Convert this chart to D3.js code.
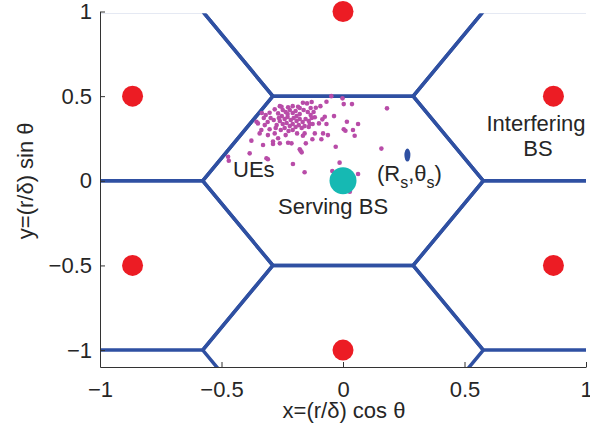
<!DOCTYPE html>
<html>
<head>
<meta charset="utf-8">
<script src="https://cdn.jsdelivr.net/npm/d3@7"></script>
<style>
  html, body { margin: 0; padding: 0; background: #fff; }
  svg { display: block; }
  text { font-family: "Liberation Sans", Arial, Helvetica, sans-serif; fill: #262626; }
</style>
</head>
<body>
<script>
// Base station layout (normalized by inter-site distance)
const interferingX = [0, 0.866, 0.866, 0, -0.866, -0.866];
const interferingY = [1, 0.5, -0.5, -1, -0.5, 0.5];
const servingX = [0];
const servingY = [0];

// Hexagonal cell centres (serving + six neighbours)
const cellX = [0, 0, 0.866, 0.866, 0, -0.866, -0.866];
const cellY = [0, 1, 0.5, -0.5, -1, -0.5, 0.5];

// User equipment positions
const ueX = [
  -0.048, -0.002, -0.068, 0.003, 0.037, -0.093, -0.112, 0.181, -0.037, -0.075,
  -0.085, -0.116, 0.062, 0.016, -0.068, -0.099, -0.137, 0.003, 0.010, 0.041,
  0.048, -0.062, -0.082, -0.116, -0.158, -0.165, -0.189, -0.089, -0.126, -0.153,
  -0.212, -0.030, -0.178, -0.175, -0.170, 0.158, -0.206, -0.158, -0.014, -0.044,
  0.062, 0.028, -0.315, -0.309, -0.384, -0.473, -0.470, -0.329, -0.288, -0.226,
  -0.377, -0.260, -0.267, -0.281, -0.309, -0.302, -0.336, -0.343, -0.356, -0.350,
  -0.288, -0.148, -0.165, -0.185, -0.253, -0.226, -0.281, -0.302, -0.267, -0.318,
  -0.326, -0.248, -0.236, -0.219, -0.207, -0.195, -0.178, -0.162, -0.145, -0.133,
  -0.252, -0.240, -0.228, -0.215, -0.203, -0.191, -0.178, -0.166, -0.154, -0.141,
  -0.129, -0.260, -0.248, -0.232, -0.219, -0.207, -0.195, -0.182, -0.170, -0.158,
  -0.273, -0.285, -0.298, -0.277, -0.256, -0.240, -0.224, -0.207, -0.236, -0.322,
  -0.310, -0.260, -0.207, -0.178, -0.133, -0.121, -0.141, -0.125, -0.191, -0.228,
  -0.264, -0.129, -0.334
];
const ueY = [
  0.500, 0.487, 0.467, 0.453, 0.453, 0.441, 0.431, 0.428, 0.382, 0.378,
  0.363, 0.375, 0.335, 0.349, 0.335, 0.339, 0.335, 0.304, 0.296, 0.300,
  0.266, 0.270, 0.280, 0.280, 0.280, 0.266, 0.280, 0.245, 0.245, 0.221,
  0.221, 0.201, 0.186, 0.179, 0.168, 0.190, 0.099, 0.050, 0.107, 0.058,
  0.040, -0.065, 0.133, 0.127, 0.162, 0.142, 0.118, 0.211, 0.217, 0.225,
  0.237, 0.221, 0.251, 0.280, 0.270, 0.304, 0.300, 0.280, 0.349, 0.339,
  0.232, 0.457, 0.461, 0.437, 0.437, 0.434, 0.422, 0.402, 0.398, 0.388,
  0.371, 0.418, 0.406, 0.418, 0.400, 0.412, 0.394, 0.418, 0.406, 0.388,
  0.382, 0.365, 0.377, 0.359, 0.371, 0.353, 0.365, 0.347, 0.365, 0.353,
  0.371, 0.353, 0.335, 0.341, 0.323, 0.335, 0.318, 0.329, 0.312, 0.323,
  0.329, 0.359, 0.371, 0.312, 0.300, 0.312, 0.294, 0.300, 0.270, 0.329,
  0.347, 0.441, 0.441, 0.430, 0.430, 0.406, 0.318, 0.335, 0.382, 0.394,
  0.371, 0.465, 0.400
];

// Reference point (R_s, theta_s)
const refPoint = { x: 0.265, y: 0.152 };

const xTicks = [-1, -0.5, 0, 0.5, 1];
const yTicks = [-1, -0.5, 0, 0.5, 1];

const W = 590, H = 432;
const svg = d3.select("body").append("svg").attr("width", W).attr("height", H);

const x = d3.scaleLinear().domain([-1, 1]).range([100, 586]);
const y = d3.scaleLinear().domain([-1.1, 1]).range([367, 11.5]);

const fmt = d => (d < 0 ? "\u2212" : "") + Math.abs(d);

// Hexagon edges around each cell centre (flat-top, inradius 0.5)
const R = 1 / Math.sqrt(3);
const hexes = cellX.map((cx, i) => d3.range(7).map(k => {
  const a = (k % 6) * Math.PI / 3;
  return [cx + R * Math.cos(a), cellY[i] + R * Math.sin(a)];
}));

svg.append("clipPath").attr("id", "plotClip")
  .append("rect")
  .attr("x", x(-1)).attr("y", y(1) + 2)
  .attr("width", x(1) - x(-1)).attr("height", y(-1.1) - y(1) - 2);

const line = d3.line().x(d => x(d[0])).y(d => y(d[1]));
svg.append("g").attr("clip-path", "url(#plotClip)")
  .selectAll("path").data(hexes).join("path")
  .attr("d", line)
  .attr("fill", "none")
  .attr("stroke", "#2f50a2")
  .attr("stroke-width", 3.5)
  .attr("stroke-linejoin", "miter");

// Axes
const yAxis = d3.axisLeft(y).tickValues(yTicks).tickFormat(fmt)
  .tickSizeInner(-5).tickSizeOuter(0).tickPadding(8);
const xAxis = d3.axisBottom(x).tickValues(xTicks).tickFormat(fmt)
  .tickSizeInner(-5).tickSizeOuter(0).tickPadding(14);

const gy = svg.append("g").attr("transform", `translate(${x(-1)},0)`).call(yAxis);
const gx = svg.append("g").attr("transform", `translate(0,${y(-1.1)})`).call(xAxis);
[gx, gy].forEach(g => {
  g.select(".domain").attr("stroke", "#333").attr("stroke-width", 1);
  g.selectAll(".tick line").attr("stroke", "#333");
  g.selectAll(".tick text").attr("font-size", 22).attr("fill", "#262626")
    .style("font-family", "'Liberation Sans', Arial, sans-serif");
});

// UEs
svg.append("g").selectAll("circle")
  .data(ueX.map((v, i) => [v, ueY[i]])).join("circle")
  .attr("cx", d => x(d[0])).attr("cy", d => y(d[1]))
  .attr("r", 2.3).attr("fill", "#b84ca8");

// Interfering base stations
svg.append("g").selectAll("circle")
  .data(interferingX.map((v, i) => [v, interferingY[i]])).join("circle")
  .attr("cx", d => x(d[0])).attr("cy", d => y(d[1]))
  .attr("r", 10.5).attr("fill", "#ec1c24");

// Serving base station
svg.append("g").selectAll("circle")
  .data(servingX.map((v, i) => [v, servingY[i]])).join("circle")
  .attr("cx", d => x(d[0])).attr("cy", d => y(d[1]))
  .attr("r", 13.5).attr("fill", "#16b9b3");

// Reference point marker
svg.append("ellipse")
  .attr("cx", x(refPoint.x)).attr("cy", y(refPoint.y))
  .attr("rx", 3).attr("ry", 6.5).attr("fill", "#2f50a2");

// Annotations
const ann = svg.append("g").attr("font-size", 22);
ann.append("text").attr("x", 233).attr("y", 177).text("UEs");
ann.append("text").attr("x", 278).attr("y", 214).text("Serving BS");
ann.append("text").attr("x", 536).attr("y", 131).attr("text-anchor", "middle").text("Interfering");
ann.append("text").attr("x", 538).attr("y", 156).attr("text-anchor", "middle").text("BS");

const rs = ann.append("text").attr("x", 377).attr("y", 181);
rs.append("tspan").text("(R");
rs.append("tspan").attr("font-size", 16).attr("dy", 7).text("s");
rs.append("tspan").attr("dy", -7).text(",θ");
rs.append("tspan").attr("font-size", 16).attr("dy", 7).text("s");
rs.append("tspan").attr("dy", -7).text(")");

// Axis titles
svg.append("text").attr("x", 344).attr("y", 418).attr("text-anchor", "middle")
  .attr("font-size", 22).text("x=(r/δ) cos θ");
svg.append("text").attr("transform", `translate(33,${y(0)}) rotate(-90)`)
  .attr("text-anchor", "middle").attr("font-size", 22).text("y=(r/δ) sin θ");
</script>
</body>
</html>
